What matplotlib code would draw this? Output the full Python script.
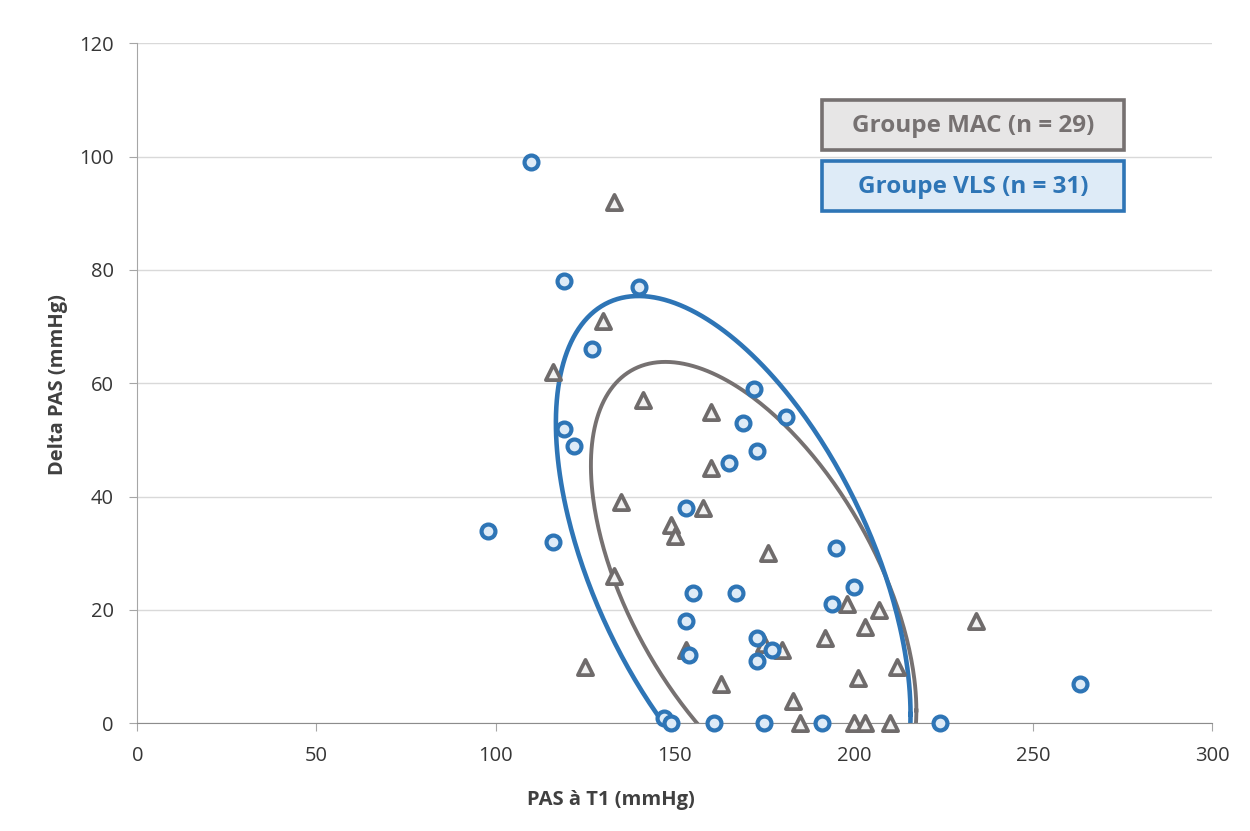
import numpy as np
import matplotlib
matplotlib.use("Agg")
import matplotlib.pyplot as plt
from matplotlib.patches import Rectangle

plt.rcParams['font.family'] = ['Open Sans', 'DejaVu Sans']

# --- data ---
vls_x = [110, 119, 140, 127, 119, 122, 98, 116, 172, 169, 181, 173, 165, 153, 195, 200,
         194, 155, 167, 153, 154, 173, 177, 173, 147, 149, 161, 175, 191, 224, 263]
vls_y = [99, 78, 77, 66, 52, 49, 34, 32, 59, 53, 54, 48, 46, 38, 31, 24,
         21, 23, 23, 18, 12, 15, 13, 11, 1, 0, 0, 0, 0, 0, 7]
mac_x = [133, 130, 116, 141, 160, 160, 135, 149, 150, 158, 176, 133, 125, 153, 175,
         180, 163, 183, 185, 192, 198, 207, 203, 201, 212, 200, 203, 210, 234]
mac_y = [92, 71, 62, 57, 55, 45, 39, 35, 33, 38, 30, 26, 10, 13, 14,
         13, 7, 4, 0, 15, 21, 20, 17, 8, 10, 0, 0, 0, 18]

# ellipse parameters (centre x, centre y, var x, cov xy, var y)
vls_ellipse = (166.3, 27.3, 2448.7, -1271.3, 2314.0)
mac_ellipse = (172.0, 23.9, 2062.2, -982.5, 1590.1)

legend_labels = ["Groupe MAC (n = 29)", "Groupe VLS (n = 31)"]
x_ticks = list(range(0, 301, 50))
y_ticks = list(range(0, 121, 20))


def ellipse_curve(cx, cy, sxx, sxy, syy, n=400):
    L = np.linalg.cholesky(np.array([[sxx, sxy], [sxy, syy]]))
    t = np.linspace(0, 2 * np.pi, n)
    p = L @ np.vstack([np.cos(t), np.sin(t)])
    return cx + p[0], cy + p[1]


fig = plt.figure(figsize=(12.5, 8.31), dpi=100)
ax = fig.add_axes([137.3 / 1250, (831 - 723.3) / 831, 1075 / 1250, 680 / 831])

ex, ey = ellipse_curve(*mac_ellipse)
ax.plot(ex, ey, color='#767171', lw=2.8, zorder=2)
ex, ey = ellipse_curve(*vls_ellipse)
ax.plot(ex, ey, color='#2e75b6', lw=3.3, zorder=2)

ax.scatter(mac_x, mac_y, marker='^', s=120, facecolor='#f2f2f2', edgecolor='#6f6b6b',
           linewidth=2.7, zorder=3, clip_on=False)
ax.scatter(vls_x, vls_y, marker='o', s=100, facecolor='#deebf7', edgecolor='#2e75b6',
           linewidth=3.0, zorder=4, clip_on=False)

ax.set_xlim(0, 300)
ax.set_ylim(0, 120)
ax.set_xticks(x_ticks)
ax.set_yticks(y_ticks)
ax.yaxis.grid(True, color='#d9d9d9', lw=1)
ax.set_axisbelow(True)
for s in ['top', 'right']:
    ax.spines[s].set_visible(False)
ax.spines['left'].set_color('#a6a6a6')
ax.spines['bottom'].set_color('#8c8c8c')
ax.tick_params(axis='both', length=6, color='#a6a6a6', labelsize=14.5, labelcolor='#363636')
ax.tick_params(axis='y', pad=11)
ax.tick_params(axis='x', pad=10)

ax.set_xlabel('PAS à T1 (mmHg)', fontsize=14.5, fontweight='bold', color='#404040', va='center')
ax.xaxis.set_label_coords(0.4407, -0.1128)
ax.set_ylabel('Delta PAS (mmHg)', fontsize=14.5, fontweight='bold', color='#404040', va='center')
ax.yaxis.set_label_coords(-0.0738, 0.4975)

boxes = [(legend_labels[0], 100, '#e7e6e6', '#767171', '#767171'),
         (legend_labels[1], 161, '#deebf7', '#2e75b6', '#2e75b6')]
for label, top, fc, ec, tc in boxes:
    fig.patches.append(Rectangle((822 / 1250, (831 - top - 50) / 831), 302 / 1250, 50 / 831,
                                 transform=fig.transFigure, facecolor=fc, edgecolor=ec,
                                 lw=2.6, zorder=5))
    fig.text(973 / 1250, (831 - top - 26) / 831, label, ha='center', va='center',
             fontsize=17.5, fontweight='bold', color=tc, zorder=6)

fig.savefig('out.png', dpi=100)
